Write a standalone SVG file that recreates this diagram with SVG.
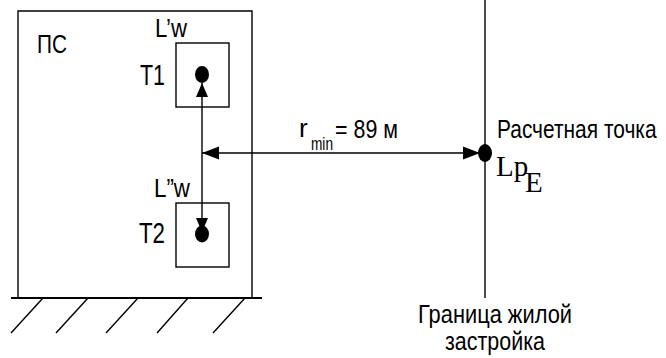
<svg xmlns="http://www.w3.org/2000/svg" width="666" height="358" viewBox="0 0 666 358">
<style>
.ln{stroke:#000;stroke-width:1.4;fill:none}
.gr{stroke:#000;stroke-width:2;fill:none}
.t{font-family:"Liberation Sans",Arial,sans-serif;font-size:26px;fill:#000}
.b{font-family:"Liberation Sans",Arial,sans-serif;font-size:29px;fill:#000}
.s{font-family:"Liberation Sans",Arial,sans-serif;font-size:18px;fill:#000}
.tm{font-family:"Liberation Serif","Times New Roman",serif;font-size:29px;fill:#000}
</style>
<defs>
<marker id="ah" markerUnits="userSpaceOnUse" markerWidth="18" markerHeight="14" refX="17" refY="7" orient="auto-start-reverse" viewBox="0 0 18 14">
<path d="M0,0.5 L17,7 L0,13.5 z" fill="#000"/>
</marker>
<marker id="av" markerUnits="userSpaceOnUse" markerWidth="15" markerHeight="13" refX="14" refY="6.5" orient="auto-start-reverse" viewBox="0 0 15 13">
<path d="M0,0.5 L14,6.5 L0,12.5 z" fill="#000"/>
</marker>
</defs>
<g id="ps">
<path class="ln" d="M18,298 V11 H252 V298"/>
<path class="gr" d="M11,298 H262"/>
<path class="ln" d="M43,298 L11,333 M88,298 L56,333 M138,298 L106,333 M188,298 L157,333 M245,298 L213,333"/>
<text class="t" x="37" y="53" textLength="30" lengthAdjust="spacingAndGlyphs">ПС</text>
</g>
<g id="t1">
<rect class="ln" x="176" y="43" width="53" height="64"/>
<ellipse cx="202" cy="74.5" rx="7" ry="8.5" fill="#000"/>
<text class="t" x="155" y="37" textLength="32" lengthAdjust="spacingAndGlyphs">L’w</text>
<text class="b" x="140" y="85" textLength="25" lengthAdjust="spacingAndGlyphs">T1</text>
</g>
<g id="t2">
<rect class="ln" x="176" y="203" width="53" height="64"/>
<ellipse cx="202" cy="234" rx="7" ry="8.5" fill="#000"/>
<text class="t" x="154" y="197" textLength="36" lengthAdjust="spacingAndGlyphs">L”w</text>
<text class="b" x="139" y="243" textLength="26" lengthAdjust="spacingAndGlyphs">T2</text>
</g>
<g id="boundary">
<path class="ln" d="M485,0 V298"/>
<text class="t" x="495" y="323" text-anchor="middle" textLength="154" lengthAdjust="spacingAndGlyphs">Граница жилой</text>
<text class="t" x="495" y="350" text-anchor="middle" textLength="100" lengthAdjust="spacingAndGlyphs">застройка</text>
</g>
<g id="point">
<ellipse cx="485" cy="153" rx="7" ry="9" fill="#000"/>
<text class="t" transform="translate(497,138) scale(0.805,1)" x="0" y="0">Расчетная точка</text>
<text class="tm" x="496" y="176">Lp</text>
<text class="tm" x="525" y="192">E</text>
</g>
<g id="connectors">
<path class="ln" d="M202,83 V232" marker-start="url(#av)" marker-end="url(#av)"/>
<path class="ln" d="M202,153 H480" marker-start="url(#ah)" marker-end="url(#ah)"/>
<text class="t" x="299" y="137">r</text>
<text class="s" x="311" y="150" textLength="22" lengthAdjust="spacingAndGlyphs">min</text>
<text class="t" x="335" y="138" textLength="63" lengthAdjust="spacingAndGlyphs">= 89 м</text>
</g>
</svg>
